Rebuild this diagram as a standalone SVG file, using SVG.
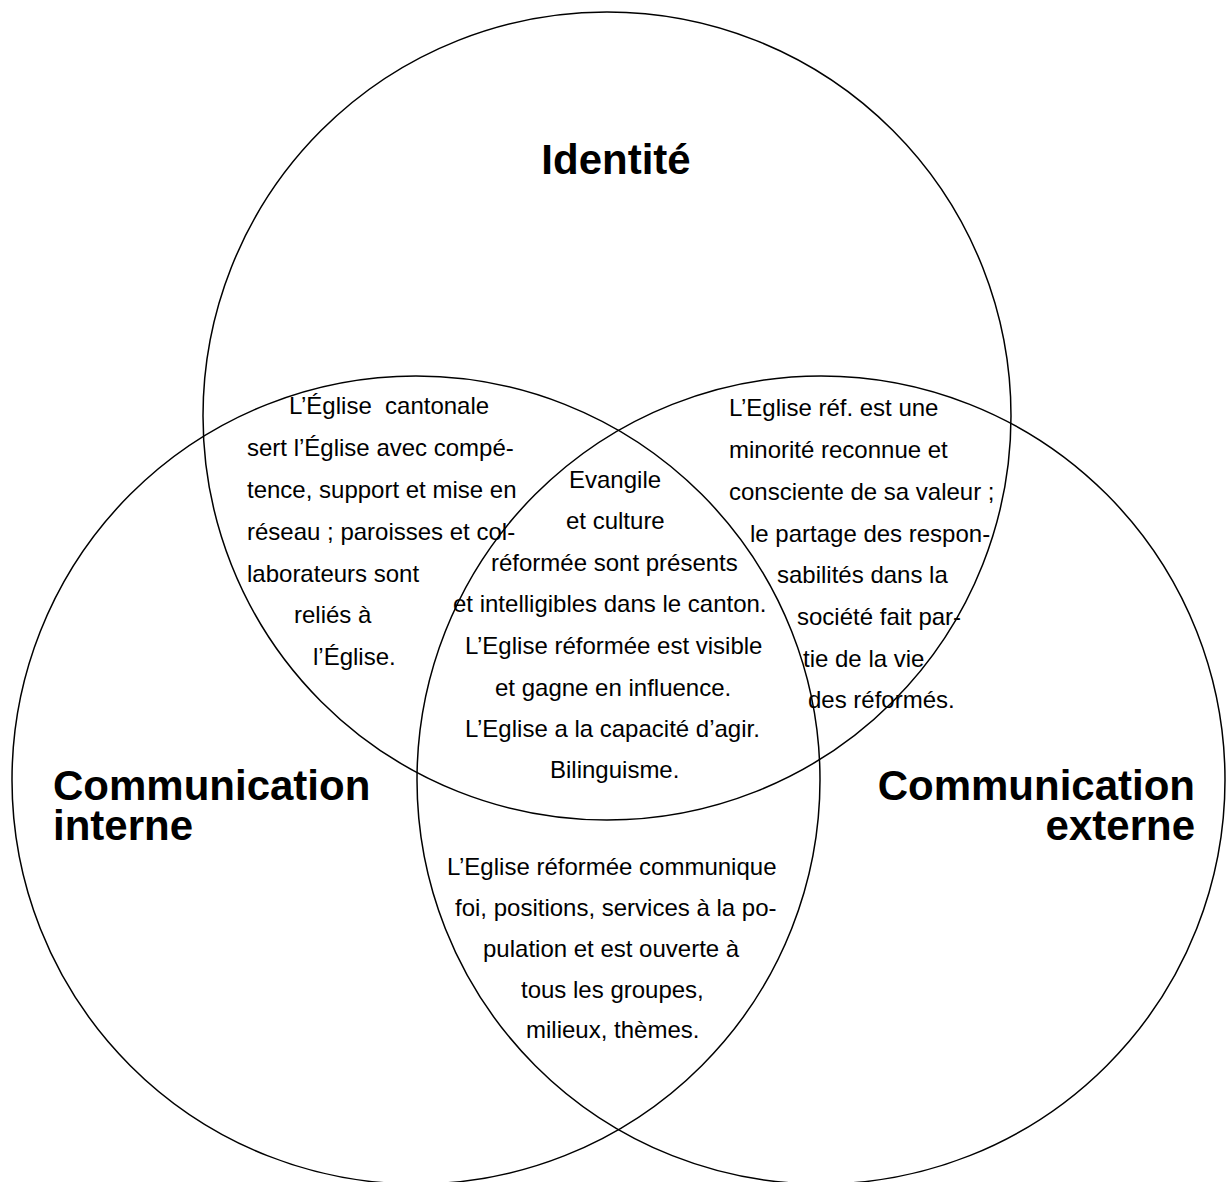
<svg xmlns="http://www.w3.org/2000/svg" width="1226" height="1182" viewBox="0 0 1226 1182">
<style>
.c{fill:none;stroke:#000;stroke-width:1.5}
.t{font-family:"Liberation Sans",Arial,sans-serif;font-size:24px;fill:#000}
.h{font-family:"Liberation Sans",Arial,sans-serif;font-size:42px;font-weight:bold;fill:#000}
</style>
<rect width="1226" height="1182" fill="#fff"/>
<g id="node-identite">
<circle class="c" cx="607" cy="416" r="404"/>
<text class="h" x="616" y="174" text-anchor="middle">Identité</text>
</g>
<g id="node-communication-interne">
<circle class="c" cx="416" cy="780" r="404"/>
<text class="h"><tspan x="53" y="800">Communication</tspan><tspan x="53" y="840">interne</tspan></text>
</g>
<g id="node-communication-externe">
<circle class="c" cx="821" cy="780" r="404"/>
<text class="h" text-anchor="end"><tspan x="1195" y="800">Communication</tspan><tspan x="1195" y="840">externe</tspan></text>
</g>
<g id="connectors"></g>
<g id="region-identite-interne">
<text class="t" x="289" y="414" xml:space="preserve">L’Église  cantonale</text>
<text class="t" x="247" y="456">sert l’Église avec compé-</text>
<text class="t" x="247" y="498">tence, support et mise en</text>
<text class="t" x="247" y="540">réseau ; paroisses et col-</text>
<text class="t" x="247" y="582">laborateurs sont</text>
<text class="t" x="294" y="623">reliés à</text>
<text class="t" x="313" y="665">l’Église.</text>
</g>
<g id="region-identite-externe">
<text class="t" x="729" y="416">L’Eglise réf. est une</text>
<text class="t" x="729" y="458">minorité reconnue et</text>
<text class="t" x="729" y="500">consciente de sa valeur ;</text>
<text class="t" x="750" y="542">le partage des respon-</text>
<text class="t" x="777" y="583">sabilités dans la</text>
<text class="t" x="797" y="625">société fait par-</text>
<text class="t" x="803" y="667">tie de la vie</text>
<text class="t" x="808" y="708">des réformés.</text>
</g>
<g id="region-centre">
<text class="t" x="569" y="488">Evangile</text>
<text class="t" x="566" y="529">et culture</text>
<text class="t" x="491" y="571">réformée sont présents</text>
<text class="t" x="453" y="612">et intelligibles dans le canton.</text>
<text class="t" x="465" y="654">L’Eglise réformée est visible</text>
<text class="t" x="495" y="696">et gagne en influence.</text>
<text class="t" x="465" y="737">L’Eglise a la capacité d’agir.</text>
<text class="t" x="550" y="778">Bilinguisme.</text>
</g>
<g id="region-interne-externe">
<text class="t" x="447" y="875">L’Eglise réformée communique</text>
<text class="t" x="455" y="916">foi, positions, services à la po-</text>
<text class="t" x="483" y="957">pulation et est ouverte à</text>
<text class="t" x="521" y="998">tous les groupes,</text>
<text class="t" x="526" y="1038">milieux, thèmes.</text>
</g>
</svg>
